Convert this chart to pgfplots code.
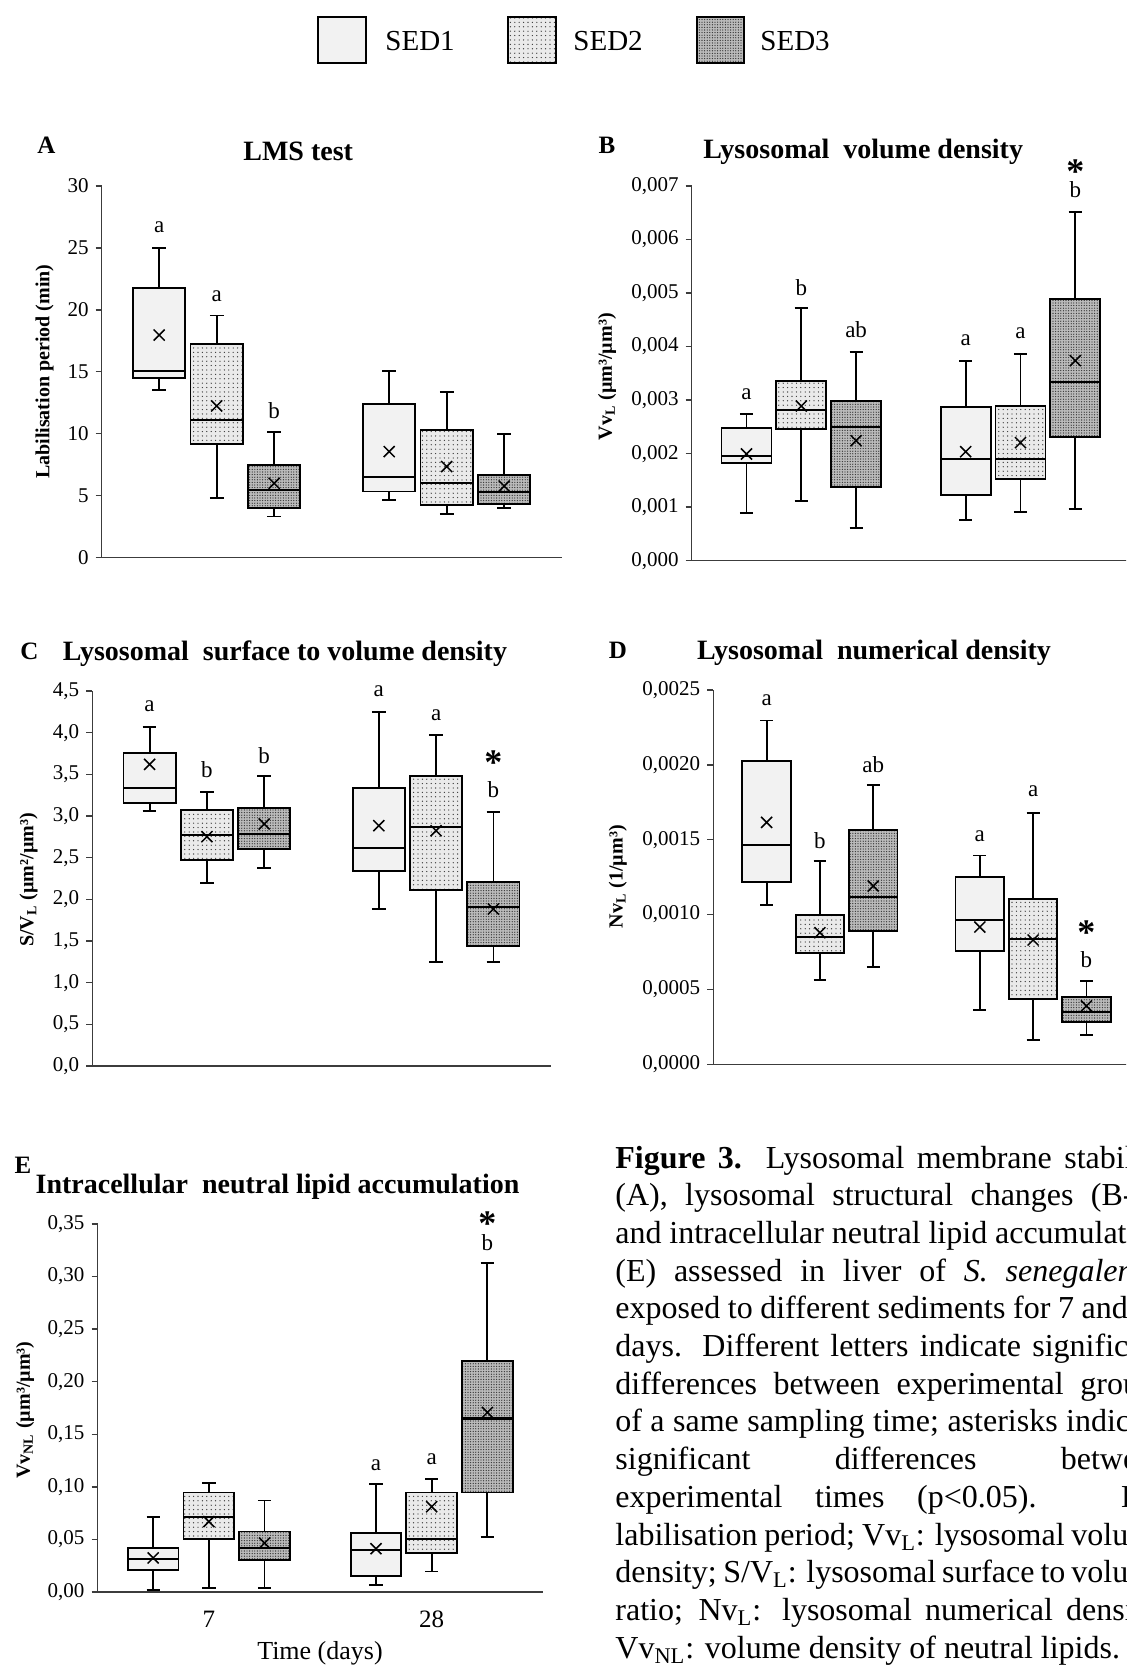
\documentclass[border=0pt]{standalone}
\usepackage{fontspec}
\setmainfont{Liberation Serif}
\usepackage{pgfplots}
\pgfplotsset{compat=1.18}
\usetikzlibrary{patterns.meta}
\definecolor{sedone}{HTML}{F2F2F2}
\definecolor{sedtwo}{HTML}{EAEAEA}
\definecolor{sedthree}{HTML}{BBBBBB}
\definecolor{dotc}{HTML}{333333}
\definecolor{axc}{HTML}{3C3C3C}
\tikzset{
 fone/.style={fill=sedone},
 ftwo/.style={fill=sedtwo, postaction={pattern={Dots[distance=2.2pt,radius=0.33pt]}, pattern color=dotc}},
 fthree/.style={fill=sedthree, postaction={pattern={Dots[distance=1.3pt,radius=0.33pt]}, pattern color=dotc}},
 ttl/.style={font=\bfseries\fontsize{14}{16}\selectfont, inner sep=0},
 plab/.style={font=\bfseries\fontsize{12.5}{14}\selectfont, inner sep=0},
 ylab/.style={font=\bfseries\fontsize{10}{12}\selectfont, rotate=90, inner sep=0},
 la/.style={font=\fontsize{11.5}{13}\selectfont, anchor=base, inner sep=0, yshift=-2.65pt},
 lb/.style={font=\fontsize{11.5}{13}\selectfont, anchor=base, inner sep=0, yshift=-3.9pt},
 ast/.style={font=\bfseries\fontsize{18}{20}\selectfont, anchor=base, inner sep=0, yshift=-9pt},
 captxt/.style={font=\fontsize{16}{18}\selectfont, anchor=base west, inner sep=0},
}
\pgfplotsset{
 panel/.style={scale only axis, anchor=south west, xmin=0, xmax=8, ymin=0, clip=false,
   axis lines=left, axis line style={-, line width=0.75pt, draw=axc},
   xtick=\empty, tick align=outside, ytick pos=left, major tick length=3pt,
   tick style={line width=0.75pt, draw=axc},
   yticklabel style={font=\fontsize{10.5}{12}\selectfont, /pgf/number format/assume math mode=true},
   scaled y ticks=false,
 },
 whisk/.style={draw=black, line width=0.9pt, mark=none, unbounded coords=jump},
 medl/.style={draw=black, line width=1.1pt, mark=none},
 sone/.style={draw=black, line width=0.9pt, line cap=rect, mark=none, fill=sedone},
 stwo/.style={draw=black, line width=0.9pt, line cap=rect, mark=none, fill=sedtwo,
   postaction={pattern={Dots[distance=2.2pt,radius=0.33pt]}, pattern color=dotc, draw=black}},
 sthree/.style={draw=black, line width=0.9pt, line cap=rect, mark=none, fill=sedthree,
   postaction={pattern={Dots[distance=1.3pt,radius=0.33pt]}, pattern color=dotc, draw=black}},
 means/.style={only marks, mark=x, mark size=3.9pt, mark options={line width=0.75pt, draw=black}},
}
% box edges (position +- 0.455) and whisker caps (position +- 0.12)
\newcommand{\defpos}[5]{%
 \expandafter\def\csname bxl#1\endcsname{#2}\expandafter\def\csname bxr#1\endcsname{#3}%
 \expandafter\def\csname bcl#1\endcsname{#4}\expandafter\def\csname bcr#1\endcsname{#5}}
\defpos{1}{0.545}{1.455}{0.88}{1.12}
\defpos{2}{1.545}{2.455}{1.88}{2.12}
\defpos{3}{2.545}{3.455}{2.88}{3.12}
\defpos{5}{4.545}{5.455}{4.88}{5.12}
\defpos{6}{5.545}{6.455}{5.88}{6.12}
\defpos{7}{6.545}{7.455}{6.88}{7.12}
% style, position, lower whisker, lower quartile, median, upper quartile, upper whisker
\newcommand{\bx}[7]{%
 \edef\bXL{\csname bxl#2\endcsname}\edef\bXR{\csname bxr#2\endcsname}%
 \edef\bCL{\csname bcl#2\endcsname}\edef\bCR{\csname bcr#2\endcsname}%
 \addplot[whisk] coordinates {(\bCL,#7) (\bCR,#7) (nan,nan) (#2,#7) (#2,#6) (nan,nan) (#2,#4) (#2,#3) (nan,nan) (\bCL,#3) (\bCR,#3)};
 \addplot[#1] coordinates {(\bXL,#4) (\bXR,#4) (\bXR,#6) (\bXL,#6) (\bXL,#4)};
 \addplot[medl] coordinates {(\bXL,#5) (\bXR,#5)};
}
\newcommand{\cl}[2]{\node[captxt] at (615,#1) {\makebox[276pt][s]{#2}};}

\begin{document}
\begin{tikzpicture}
\path[use as bounding box] (0,0) rectangle (563pt,-834pt);
\clip (0,0) rectangle (563pt,-834pt);

% ---------------- A ----------------
\begin{axis}[panel, at={(50.85pt,-278.65pt)}, width=230pt, height=185.65pt, ymax=30, ytick={0,5,10,15,20,25,30}]
\bx{sone}{1}{13.52}{14.46}{15.03}{21.73}{25.02}
\bx{stwo}{2}{4.77}{9.16}{11.10}{17.21}{19.53}
\bx{sthree}{3}{3.29}{3.96}{5.44}{7.46}{10.10}
\bx{sone}{5}{4.63}{5.31}{6.52}{12.36}{15.03}
\bx{stwo}{6}{3.50}{4.23}{5.98}{10.29}{13.33}
\bx{sthree}{7}{3.96}{4.31}{5.28}{6.65}{9.97}
\addplot[means] coordinates {(1,17.96) (2,12.23) (3,5.98) (5,8.54) (6,7.33) (7,5.76)};
\node[la] at (axis cs:1,26.66) {a};
\node[la] at (axis cs:2,21.11) {a};
\node[lb] at (axis cs:3,11.85) {b};
\end{axis}

% ---------------- B (values in units of 0.001 um3/um3) ----------------
\begin{axis}[panel, at={(345.85pt,-280.35pt)}, width=219.2pt, height=187.35pt, ymax=7,
  ytick={0,1,2,3,4,5,6,7},
  yticklabels={{0,000},{0,001},{0,002},{0,003},{0,004},{0,005},{0,006},{0,007}}]
\bx{sone}{1}{0.884}{1.831}{1.956}{2.472}{2.746}
\bx{stwo}{2}{1.115}{2.454}{2.815}{3.363}{4.727}
\bx{sthree}{3}{0.610}{1.383}{2.504}{2.989}{3.905}
\bx{sone}{5}{0.766}{1.221}{1.906}{2.877}{3.737}
\bx{stwo}{6}{0.915}{1.532}{1.900}{2.896}{3.855}
\bx{sthree}{7}{0.965}{2.317}{3.332}{4.883}{6.514}
\addplot[means] coordinates {(1,1.993) (2,2.89) (3,2.242) (5,2.036) (6,2.205) (7,3.737)};
\node[la] at (axis cs:1,3.114) {a};
\node[lb] at (axis cs:2,5.107) {b};
\node[lb] at (axis cs:3,4.31) {ab};
\node[la] at (axis cs:5,4.123) {a};
\node[la] at (axis cs:6,4.247) {a};
\node[lb] at (axis cs:7,6.938) {b};
\node[ast] at (axis cs:7,7.392) {*};
\end{axis}

% ---------------- C ----------------
\begin{axis}[panel, at={(46.15pt,-533pt)}, width=229.2pt, height=187.5pt, ymax=4.5,
  ytick={0,0.5,1,1.5,2,2.5,3,3.5,4,4.5},
  yticklabel style={/pgf/number format/.cd, fixed, fixed zerofill, precision=1, use comma}]
\bx{sone}{1}{3.056}{3.152}{3.332}{3.756}{4.064}
\bx{stwo}{2}{2.200}{2.476}{2.768}{3.076}{3.292}
\bx{sthree}{3}{2.376}{2.604}{2.788}{3.100}{3.476}
\bx{sone}{5}{1.884}{2.344}{2.620}{3.332}{4.248}
\bx{stwo}{6}{1.244}{2.112}{2.868}{3.476}{3.972}
\bx{sthree}{7}{1.244}{1.436}{1.904}{2.208}{3.052}
\addplot[means] coordinates {(1,3.62) (2,2.752) (3,2.904) (5,2.884) (6,2.824) (7,1.884)};
\node[la] at (axis cs:1,4.32) {a};
\node[lb] at (axis cs:2,3.552) {b};
\node[lb] at (axis cs:3,3.728) {b};
\node[la] at (axis cs:5,4.492) {a};
\node[la] at (axis cs:6,4.212) {a};
\node[lb] at (axis cs:7,3.312) {b};
\node[ast] at (axis cs:7,3.72) {*};
\end{axis}

% ---------------- D (values in units of 0.001 1/um3) ----------------
\begin{axis}[panel, at={(356.65pt,-532.15pt)}, width=213.2pt, height=187.15pt, ymax=2.5,
  ytick={0,0.5,1,1.5,2,2.5},
  yticklabels={{0,0000},{0,0005},{0,0010},{0,0015},{0,0020},{0,0025}}]
\bx{sone}{1}{1.064}{1.220}{1.467}{2.028}{2.297}
\bx{stwo}{2}{0.563}{0.741}{0.848}{0.995}{1.358}
\bx{sthree}{3}{0.652}{0.893}{1.118}{1.563}{1.868}
\bx{sone}{5}{0.363}{0.757}{0.962}{1.251}{1.394}
\bx{stwo}{6}{0.163}{0.436}{0.837}{1.102}{1.681}
\bx{sthree}{7}{0.194}{0.280}{0.347}{0.447}{0.559}
\addplot[means] coordinates {(1,1.616) (2,0.879) (3,1.191) (5,0.917) (6,0.83) (7,0.39)};
\node[la] at (axis cs:1,2.429) {a};
\node[lb] at (axis cs:2,1.494) {b};
\node[lb] at (axis cs:3,2.001) {ab};
\node[la] at (axis cs:5,1.525) {a};
\node[la] at (axis cs:6,1.821) {a};
\node[lb] at (axis cs:7,0.701) {b};
\node[ast] at (axis cs:7,0.919) {*};
\end{axis}

% ---------------- E ----------------
\begin{axis}[panel, at={(48.75pt,-796pt)}, width=222.8pt, height=184pt, ymax=0.35,
  ytick={0,0.05,0.1,0.15,0.2,0.25,0.3,0.35},
  yticklabel style={/pgf/number format/.cd, fixed, fixed zerofill, precision=2, use comma},
  xtick={2,6}, xticklabels={7,28}, xtick style={draw=none},
  xticklabel style={font=\fontsize{12.5}{14}\selectfont, yshift=-3pt}]
\bx{sone}{1}{0.00157}{0.02075}{0.03176}{0.04214}{0.07107}
\bx{stwo}{2}{0.00377}{0.05063}{0.0717}{0.09465}{0.10377}
\bx{sthree}{3}{0.00377}{0.03082}{0.04182}{0.05755}{0.08711}
\bx{sone}{5}{0.0066}{0.01509}{0.03994}{0.05629}{0.10252}
\bx{stwo}{6}{0.0195}{0.03742}{0.05031}{0.09465}{0.10755}
\bx{sthree}{7}{0.0522}{0.09465}{0.1651}{0.2195}{0.3129}
\addplot[means] coordinates {(1,0.03239) (2,0.06698) (3,0.04654) (5,0.0412) (6,0.08113) (7,0.1708)};
\node[la] at (axis cs:5,0.1204) {a};
\node[la] at (axis cs:6,0.1267) {a};
\node[lb] at (axis cs:7,0.3327) {b};
\node[ast] at (axis cs:7,0.3563) {*};
\end{axis}

% ---------------- text in pixel coordinates ----------------
\begin{scope}[x=0.5pt, y=-0.5pt]
% legend
\draw[line width=0.9pt, fone] (318.3,16.7) rectangle (365.7,63.3);
\node[anchor=west, inner sep=0, font=\fontsize{14.5}{16}\selectfont] at (385,41) {SED1};
\draw[line width=0.9pt, ftwo] (508.3,16.7) rectangle (555.7,63.3);
\draw[line width=0.9pt] (508.3,16.7) rectangle (555.7,63.3);
\node[anchor=west, inner sep=0, font=\fontsize{14.5}{16}\selectfont] at (573,41) {SED2};
\draw[line width=0.9pt, fthree] (697.3,16.7) rectangle (744,63.3);
\draw[line width=0.9pt] (697.3,16.7) rectangle (744,63.3);
\node[anchor=west, inner sep=0, font=\fontsize{14.5}{16}\selectfont] at (760,41) {SED3};

% panel letters and titles
\node[plab] at (46.4,145) {A};
\node[ttl] at (298.2,151.7) {LMS test};
\node[plab] at (607,145) {B};
\node[ttl] at (863.2,151.7) {Lysosomal\hspace{0.25em} volume density};
\node[plab] at (29.3,651.7) {C};
\node[ttl] at (285,653.3) {Lysosomal\hspace{0.25em} surface to volume density};
\node[plab] at (617.8,650) {D};
\node[ttl] at (874,653) {Lysosomal\hspace{0.25em} numerical density};
\node[plab] at (23,1165) {E};
\node[ttl] at (277.5,1186.8) {Intracellular\hspace{0.25em} neutral lipid accumulation};

% y labels
\node[ylab] at (44.6,371.7) {Labilisation period (min)};
\node[ylab] at (607,376.7) {Vv\textsubscript{L} (µm³/µm³)};
\node[ylab] at (28.6,880) {S/V\textsubscript{L} (µm²/µm³)};
\node[ylab] at (617.8,876.7) {Nv\textsubscript{L} (1/µm³)};
\node[ylab] at (25,1410) {Vv\textsubscript{NL} (µm³/µm³)};

% x label
\node[inner sep=0, font=\fontsize{13}{15}\selectfont] at (320,1653) {Time (days)};

% caption
\cl{1168}{\textbf{Figure 3.} Lysosomal membrane stability}
\cl{1205.7}{(A), lysosomal structural changes (B-D)}
\cl{1243.4}{and intracellular neutral lipid accumulation}
\cl{1281.1}{(E) assessed in liver of \textit{S. senegalensis}}
\cl{1318.8}{exposed to different sediments for 7 and 28}
\cl{1356.5}{days. Different letters indicate significant}
\cl{1394.2}{differences between experimental groups}
\cl{1431.9}{of a same sampling time; asterisks indicate}
\cl{1469.6}{significant differences between}
\cl{1507.3}{experimental times (p<0.05). LP:}
\cl{1545}{labilisation period; Vv\textsubscript{L}: lysosomal volume}
\cl{1582.7}{density; S/V\textsubscript{L}: lysosomal surface to volume}
\cl{1620.4}{ratio; Nv\textsubscript{L}: lysosomal numerical density;}
\node[captxt] at (615,1658) {Vv\textsubscript{NL}: volume density of neutral lipids.};
\end{scope}
\end{tikzpicture}
\end{document}
